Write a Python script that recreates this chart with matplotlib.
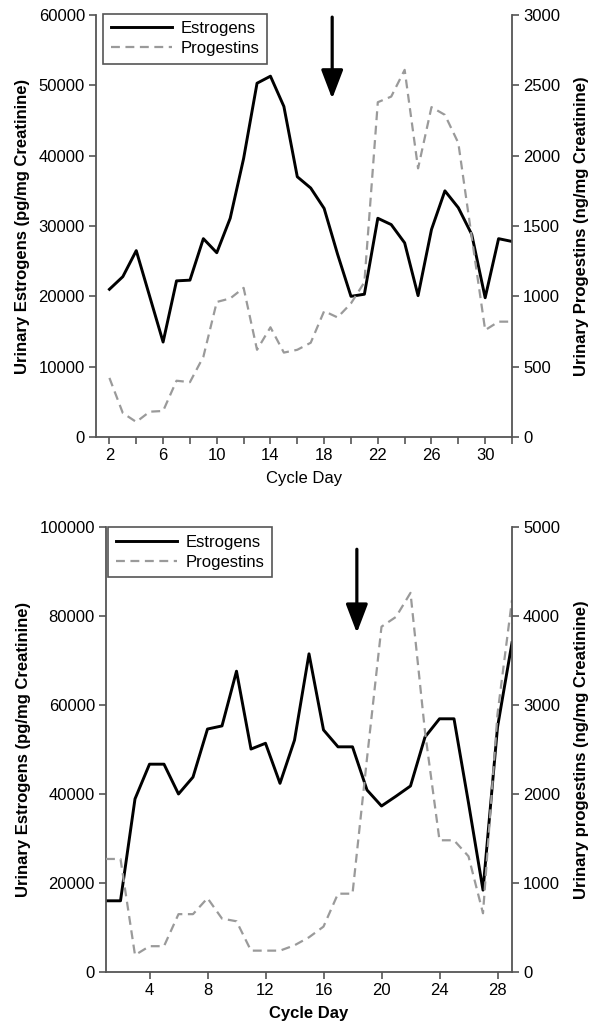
import matplotlib
matplotlib.use("Agg")
import matplotlib.pyplot as plt

plt.rcParams['font.family'] = ['Liberation Sans', 'DejaVu Sans']

# ---------------- data ----------------
top_days = list(range(2, 33))
top_estrogens = [21000, 22800, 26500, 20000, 13500, 22200, 22300, 28200, 26200, 31100,
                 39600, 50300, 51300, 47000, 37000, 35400, 32500, 26000, 20000, 20300,
                 31100, 30200, 27600, 20100, 29500, 35000, 32600, 28800, 19800, 28200, 27800]
top_progestins = [420, 170, 107, 180, 185, 400, 390, 570, 960, 985,
                  1060, 620, 780, 600, 620, 670, 895, 850, 950, 1100,
                  2380, 2420, 2610, 1910, 2345, 2290, 2090, 1420, 760, 820, 820]

bot_days = list(range(1, 30))
bot_estrogens = [16000, 16000, 38900, 46700, 46700, 40000, 43800, 54600, 55300, 67600,
                 50100, 51400, 42400, 52100, 71500, 54400, 50600, 50600, 40900, 37300,
                 39500, 41800, 52800, 56900, 56900, 38000, 18400, 55000, 74000]
bot_progestins = [1270, 1270, 190, 290, 290, 650, 650, 830, 600, 570,
                  240, 240, 240, 300, 390, 510, 880, 880, 2400, 3880,
                  3990, 4260, 2700, 1480, 1480, 1300, 660, 2900, 4180]

top_xticks = list(range(2, 33, 4))
top_xminor = list(range(4, 33, 4))
bot_xticks = list(range(4, 29, 4))

labels = ["Estrogens", "Progestins"]

# ---------------- style ----------------
EST_COLOR = "black"
PRO_COLOR = "#9a9a9a"
SPINE = "#555555"
FS = 12

fig = plt.figure(figsize=(5.92, 10.22), dpi=100)


def style_axes(ax, ax2):
    for a in (ax, ax2):
        a.spines['top'].set_visible(False)
        for s in ('left', 'right', 'bottom'):
            a.spines[s].set_color(SPINE)
            a.spines[s].set_linewidth(1.3)
    ax.spines['right'].set_visible(False)
    ax2.spines['left'].set_visible(False)
    ax2.spines['bottom'].set_visible(False)
    ax.tick_params(axis='both', which='both', direction='out', length=5,
                   width=1.2, color=SPINE, labelsize=FS, pad=3)
    ax2.tick_params(axis='y', direction='out', length=5, width=1.2,
                    color=SPINE, labelsize=FS, pad=3)


def arrow(ax, x, ytop, ytip):
    ax.annotate("", xy=(x, ytip), xytext=(x, ytop),
                arrowprops=dict(arrowstyle='-|>,head_length=1.1,head_width=0.42',
                                color='black', lw=2.3, mutation_scale=16,
                                shrinkA=0, shrinkB=0))


def make_legend(ax, handles, anchor):
    leg = ax.legend(handles=handles, loc='upper left', bbox_to_anchor=anchor,
                    borderaxespad=0, fontsize=FS, fancybox=False, framealpha=1,
                    edgecolor=SPINE, handlelength=3.7, handletextpad=0.5,
                    labelspacing=0.3, borderpad=0.45)
    leg.get_frame().set_linewidth(1.2)
    return leg


# ---------------- top chart ----------------
ax1 = fig.add_axes([96 / 592, 1 - 437 / 1022, 416 / 592, 422 / 1022])
ax1b = ax1.twinx()
l1, = ax1.plot(top_days, top_estrogens, color=EST_COLOR, lw=2.1, label=labels[0])
l2, = ax1b.plot(top_days, top_progestins, color=PRO_COLOR, lw=1.6,
                dashes=(4, 2.5), label=labels[1])
ax1.set_xlim(1, 32)
ax1.set_ylim(0, 60000)
ax1b.set_ylim(0, 3000)
ax1.set_xticks(top_xticks)
ax1.set_xticks(top_xminor, minor=True)
ax1.set_yticks(range(0, 60001, 10000))
ax1b.set_yticks(range(0, 3001, 500))
style_axes(ax1, ax1b)
ax1.set_xlabel("Cycle Day", fontsize=FS, labelpad=6)
ax1.set_ylabel("Urinary Estrogens (pg/mg Creatinine)", fontsize=FS,
               fontweight='bold', labelpad=6)
ax1b.set_ylabel("Urinary Progestins (ng/mg Creatinine)", fontsize=FS,
                fontweight='bold', labelpad=10)
make_legend(ax1, [l1, l2], (0.017, 1.003))
arrow(ax1, 18.6, 59700, 48100)

# ---------------- bottom chart ----------------
ax2 = fig.add_axes([106 / 592, 1 - 972 / 1022, 406 / 592, 445 / 1022])
ax2b = ax2.twinx()
m1, = ax2.plot(bot_days, bot_estrogens, color=EST_COLOR, lw=2.1, label=labels[0])
m2, = ax2b.plot(bot_days, bot_progestins, color=PRO_COLOR, lw=1.6,
                dashes=(4, 2.5), label=labels[1])
ax2.set_xlim(1, 29)
ax2.set_ylim(0, 100000)
ax2b.set_ylim(0, 5000)
ax2.set_xticks(bot_xticks)
ax2.set_yticks(range(0, 100001, 20000))
ax2b.set_yticks(range(0, 5001, 1000))
style_axes(ax2, ax2b)
ax2.set_xlabel("Cycle Day", fontsize=FS, fontweight='bold', labelpad=6)
ax2.set_ylabel("Urinary Estrogens (pg/mg Creatinine)", fontsize=FS,
               fontweight='bold', labelpad=6)
ax2b.set_ylabel("Urinary progestins (ng/mg Creatinine)", fontsize=FS,
                fontweight='bold', labelpad=10)
make_legend(ax2, [m1, m2], (0.005, 1.0))
arrow(ax2, 18.3, 95000, 76200)

fig.savefig("out.png", dpi=100)
